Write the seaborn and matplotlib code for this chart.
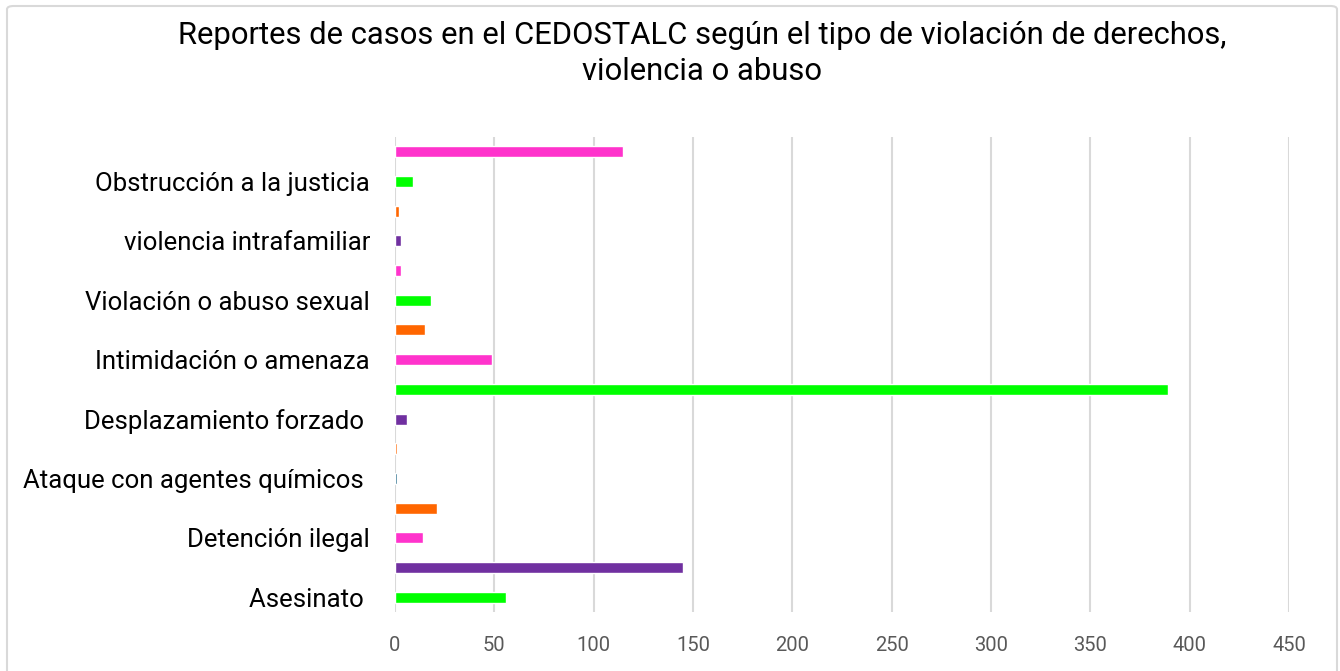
import matplotlib.pyplot as plt
import pandas as pd
import seaborn as sns
from matplotlib.patches import FancyBboxPatch

# bars from top to bottom; Excel only printed every other label
categorias = [
    "sin etiqueta 1", "Obstrucción a la justicia",
    "sin etiqueta 2", "violencia intrafamiliar",
    "sin etiqueta 3", "Violación o abuso sexual",
    "sin etiqueta 4", "Intimidación o amenaza",
    "sin etiqueta 5", "Desplazamiento forzado ",
    "sin etiqueta 6", "Ataque con agentes químicos ",
    "sin etiqueta 7", "Detención ilegal",
    "sin etiqueta 8", "Asesinato ",
]
etiquetas = [c if not c.startswith("sin etiqueta") else "" for c in categorias]
casos = [115, 9, 2, 3, 3, 18, 15, 49, 389, 6, 1, 1, 21, 14, 145, 56]
colores = [
    "#FF33CC", "#00FF00", "#FF6600", "#7030A0",
    "#FF33CC", "#00FF00", "#FF6600", "#FF33CC",
    "#00FF00", "#7030A0", "#FF6600", "#156082",
    "#FF6600", "#FF33CC", "#7030A0", "#00FF00",
]
x_ticks = list(range(0, 451, 50))

titulo = ("Reportes de casos en el CEDOSTALC según el tipo de violación de derechos,\n"
          "violencia o abuso")

sns.set_theme(style="white")
plt.rcParams["font.family"] = ["Roboto", "DejaVu Sans"]

df = pd.DataFrame({"categoria": categorias, "casos": casos})

fig = plt.figure(figsize=(13.4, 6.71), dpi=100)
ax = fig.add_axes([0.2948, 0.0879, 0.9619 - 0.2948, 0.7958 - 0.0879])

sns.barplot(
    data=df, y="categoria", x="casos", hue="categoria",
    palette=dict(zip(categorias, colores)), orient="h",
    width=0.37, legend=False, saturation=1, ax=ax,
)

ax.set_xlim(0, 450)
ax.set_xticks(x_ticks)
ax.set_yticks(range(len(categorias)))
ax.set_yticklabels(etiquetas)
ax.set_xlabel("")
ax.set_ylabel("")
ax.grid(axis="x", color="#D9D9D9", linewidth=1.5)
ax.set_axisbelow(True)
for s in ax.spines.values():
    s.set_visible(False)
ax.tick_params(axis="y", length=0, pad=18, labelsize=18.5, labelcolor="black")
ax.tick_params(axis="x", length=0, pad=17, labelsize=14.5, labelcolor="#595959")

fig.text(0.5239, 0.9205, titulo, ha="center", va="center",
         fontsize=22.3, linespacing=1.28, color="black")

# chart border (bottom edge is cut off in the original)
fig.patches.append(FancyBboxPatch(
    (7 / 1340, -0.05), 1330 / 1340, 0.05 + 1 - 6 / 671,
    boxstyle="round,pad=0,rounding_size=0.005", transform=fig.transFigure,
    facecolor="none", edgecolor="#D9D9D9", linewidth=1.5,
))

fig.savefig("out.png", dpi=100)
